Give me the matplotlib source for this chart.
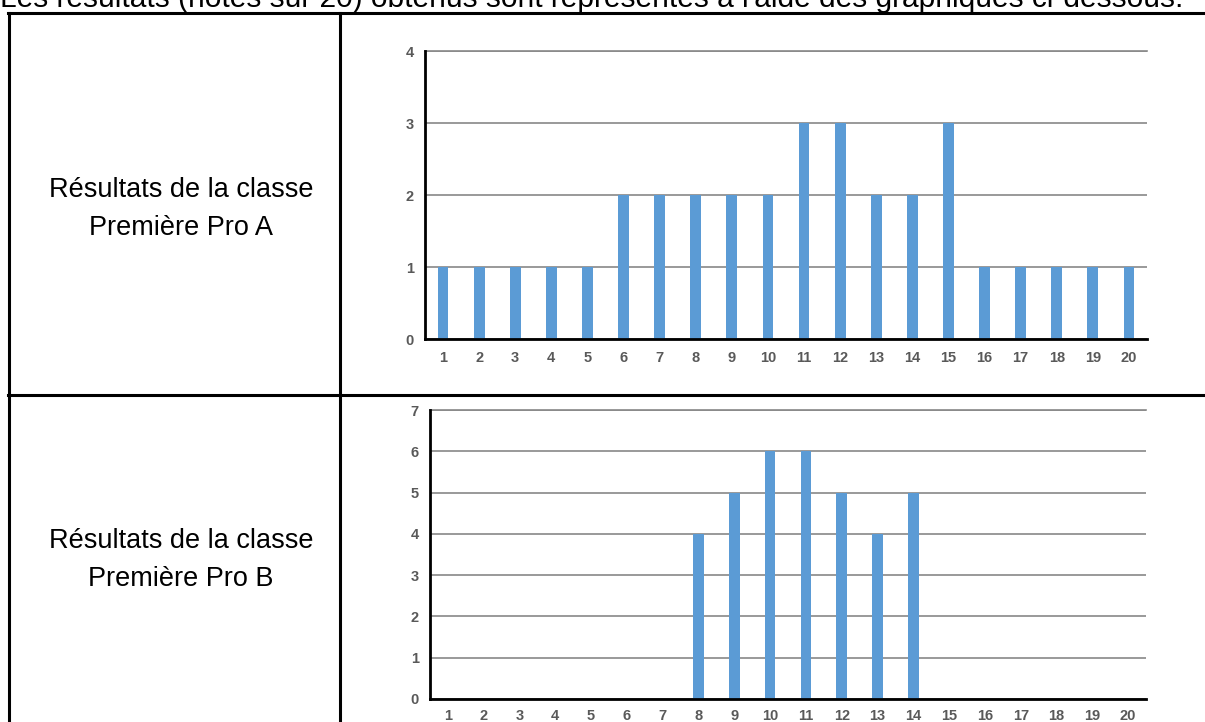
import matplotlib
matplotlib.use("Agg")
import matplotlib.pyplot as plt
from matplotlib.lines import Line2D

notes = list(range(1, 21))
effectifs_A = [1, 1, 1, 1, 1, 2, 2, 2, 2, 2, 3, 3, 2, 2, 3, 1, 1, 1, 1, 1]
effectifs_B = [0, 0, 0, 0, 0, 0, 0, 4, 5, 6, 6, 5, 4, 5, 0, 0, 0, 0, 0, 0]
label_A = ["Résultats de la classe", "Première Pro A"]
label_B = ["Résultats de la classe", "Première Pro B"]
intro = "Les résultats (notes sur 20) obtenus sont représentés à l'aide des graphiques ci-dessous."

W, H = 1205, 722
plt.rcParams['font.family'] = ['Liberation Sans', 'DejaVu Sans']
fig = plt.figure(figsize=(W / 100, H / 100), dpi=100)

BAR = "#5b9bd5"
TICK = "#595959"


def px_axes(left, top, right, bottom):
    return fig.add_axes([left / W, 1 - bottom / H, (right - left) / W, (bottom - top) / H])


def draw_chart(ax, values, ymax, xpad):
    ax.bar(notes, values, width=0.3, color=BAR, zorder=3)
    ax.set_xlim(0.5, 20.5)
    ax.set_ylim(0, ymax)
    ax.set_yticks(range(0, ymax + 1))
    ax.set_xticks(notes)
    ax.set_xticklabels([str(n) for n in notes])
    ax.yaxis.grid(True, color="#888888", linewidth=1.2, zorder=1)
    ax.set_axisbelow(True)
    for s in ["top", "right"]:
        ax.spines[s].set_visible(False)
    for s in ["left", "bottom"]:
        ax.spines[s].set_linewidth(2)
        ax.spines[s].set_color("black")
        ax.spines[s].set_zorder(4)
    ax.tick_params(length=0, labelsize=10.5, labelcolor=TICK)
    ax.tick_params(axis='x', pad=xpad)
    ax.tick_params(axis='y', pad=8)
    for lab in ax.get_xticklabels() + ax.get_yticklabels():
        lab.set_fontweight("bold")
    ax.axhline(ymax, color="#888888", linewidth=1.2, zorder=1, clip_on=False)


ax1 = px_axes(425, 51, 1147, 339)
draw_chart(ax1, effectifs_A, 4, 8.5)
ax2 = px_axes(430, 410, 1146, 699)
draw_chart(ax2, effectifs_B, 7, 7)


def fline(x0, y0, x1, y1):
    fig.add_artist(Line2D([x0 / W, x1 / W], [1 - y0 / H, 1 - y1 / H],
                          color="black", linewidth=2.2, transform=fig.transFigure))


fline(8, 13, W, 13)
fline(9, 13, 9, H)
fline(340, 13, 340, H)
fline(8, 395, W, 395)

fig.text(0 / W, 1 - 7 / H, intro, fontsize=21.5, ha="left", va="baseline", color="black")

for (l1, l2), (b1, b2) in [(label_A, (197, 235)), (label_B, (548, 586))]:
    fig.text(181 / W, 1 - b1 / H, l1, fontsize=19.5, ha="center", va="baseline")
    fig.text(181 / W, 1 - b2 / H, l2, fontsize=19.5, ha="center", va="baseline")

fig.savefig("out.png", dpi=100)
